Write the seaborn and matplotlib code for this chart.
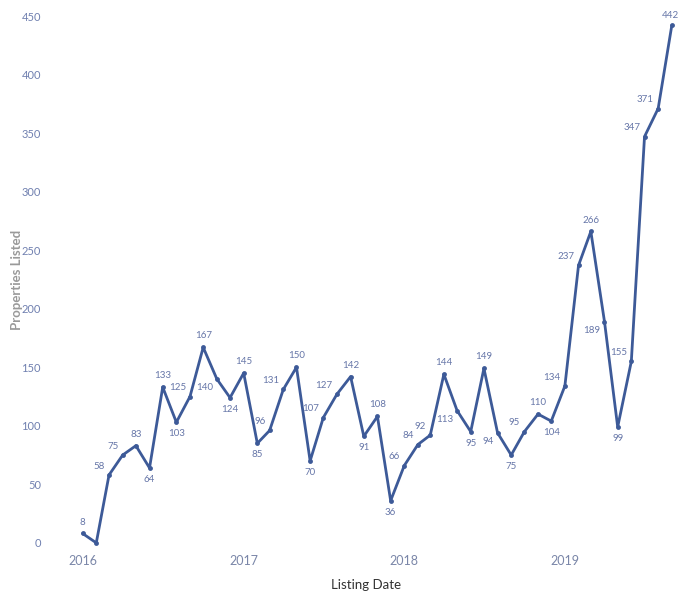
import pandas as pd
import matplotlib.pyplot as plt
import seaborn as sns

# monthly listings, Jan 2016 - Sep 2019
months = pd.date_range('2016-01-01', '2019-09-01', freq='MS')
listed = [8, 0, 58, 75, 83, 64, 133, 103, 125, 167, 140, 124,
          145, 85, 96, 131, 150, 70, 107, 127, 142, 91, 108, 36,
          66, 84, 92, 144, 113, 95, 149, 94, 75, 95, 110, 104,
          134, 237, 266, 189, 99, 155, 347, 371, 442]
yticks = [0, 50, 100, 150, 200, 250, 300, 350, 400, 450]
xticks = ['2016', '2017', '2018', '2019']

df = pd.DataFrame({'month': months, 'listed': listed})

sns.set_theme(style='white')
plt.rcParams['font.family'] = ['Lato', 'DejaVu Sans']

fig = plt.figure(figsize=(6.78, 5.99), dpi=100)
ax = fig.add_axes([0.081, 0.082, 0.917, 0.901])
line_col = '#3d5a98'
sns.lineplot(data=df, x='month', y='listed', ax=ax, color=line_col,
             linewidth=2, marker='o', markersize=3.5, markeredgewidth=0)

for i, (m, v) in enumerate(zip(df['month'], df['listed'])):
    if v == 0:
        continue
    prev = listed[i - 1] if i > 0 else v - 1
    nxt = listed[i + 1] if i < len(listed) - 1 else v - 1
    if i == len(listed) - 1:
        xy, ha, va = (-1, 4), 'center', 'bottom'
    elif v >= prev and v >= nxt:
        xy, ha, va = (0, 5), 'center', 'bottom'
    elif v <= prev and v <= nxt:
        xy, ha, va = (0, -5), 'center', 'top'
    elif nxt > v:
        xy, ha, va = (-3, 3), 'right', 'bottom'
    else:
        xy, ha, va = (-3, -3), 'right', 'top'
    ax.annotate(str(v), (m, v), xytext=xy, textcoords='offset points',
                ha=ha, va=va, fontsize=7, color='#6676a8')

ax.set_xlim(pd.Timestamp('2015-10-30'), pd.Timestamp('2019-09-12'))
ax.set_ylim(-6, 455)
ax.set_yticks(yticks)
ax.set_xticks([pd.Timestamp(y + '-01-01') for y in xticks])
ax.set_xticklabels(xticks)
ax.tick_params(axis='y', labelsize=8, labelcolor='#7080b0', pad=10, length=0)
ax.tick_params(axis='x', labelsize=9, labelcolor='#7a86a8', pad=4, length=0)
ax.set_xlabel('Listing Date', fontsize=9.5, color='#333333', labelpad=8)
ax.set_ylabel('Properties Listed', fontsize=9.5, color='#999999',
              fontweight='bold')
ax.yaxis.set_label_coords(-0.052, 0.5)
sns.despine(ax=ax, left=True, bottom=True)
ax.grid(False)

fig.savefig('out.png', dpi=100, facecolor='white')
